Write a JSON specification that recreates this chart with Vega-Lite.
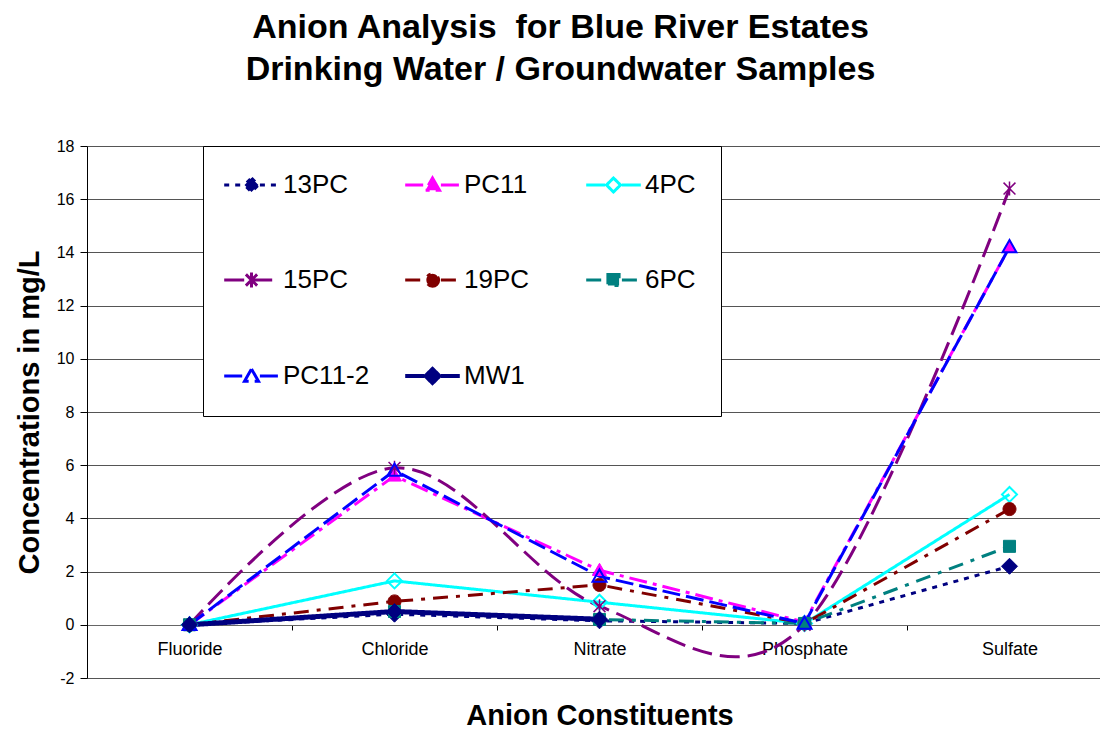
{
  "$schema": "https://vega.github.io/schema/vega-lite/v6.json",
  "width": 1013,
  "height": 532,
  "autosize": {"type": "none"},
  "padding": {"left": 87, "top": 146, "right": 0, "bottom": 53},
  "background": "white",
  "config": {"view": {"stroke": null}, "font": "Liberation Sans"},
  "title": {
    "text": ["Anion Analysis\u00a0 for Blue River Estates", "Drinking Water / Groundwater Samples"],
    "fontSize": 34, "fontWeight": "bold", "font": "Liberation Sans", "color": "#000000",
    "lineHeight": 42, "anchor": "middle", "dx": -33, "offset": 51
  },
  "data": {"values": [
    {"series": "13PC", "anion": "Fluoride", "value": 0},
    {"series": "13PC", "anion": "Chloride", "value": 0.4},
    {"series": "13PC", "anion": "Nitrate", "value": 0.15},
    {"series": "13PC", "anion": "Phosphate", "value": 0.05},
    {"series": "13PC", "anion": "Sulfate", "value": 2.2},
    {"series": "PC11", "anion": "Fluoride", "value": 0},
    {"series": "PC11", "anion": "Chloride", "value": 5.6},
    {"series": "PC11", "anion": "Nitrate", "value": 2.05},
    {"series": "PC11", "anion": "Phosphate", "value": 0.1},
    {"series": "PC11", "anion": "Sulfate", "value": 14.2},
    {"series": "4PC", "anion": "Fluoride", "value": 0},
    {"series": "4PC", "anion": "Chloride", "value": 1.65},
    {"series": "4PC", "anion": "Nitrate", "value": 0.85},
    {"series": "4PC", "anion": "Phosphate", "value": 0.05},
    {"series": "4PC", "anion": "Sulfate", "value": 4.9},
    {"series": "15PC", "anion": "Fluoride", "value": 0},
    {"series": "15PC", "anion": "Chloride", "value": 5.9},
    {"series": "15PC", "anion": "Nitrate", "value": 0.7},
    {"series": "15PC", "anion": "Phosphate", "value": 0},
    {"series": "15PC", "anion": "Sulfate", "value": 16.4},
    {"series": "19PC", "anion": "Fluoride", "value": 0},
    {"series": "19PC", "anion": "Chloride", "value": 0.88},
    {"series": "19PC", "anion": "Nitrate", "value": 1.5},
    {"series": "19PC", "anion": "Phosphate", "value": 0.05},
    {"series": "19PC", "anion": "Sulfate", "value": 4.35},
    {"series": "6PC", "anion": "Fluoride", "value": 0},
    {"series": "6PC", "anion": "Chloride", "value": 0.5},
    {"series": "6PC", "anion": "Nitrate", "value": 0.2},
    {"series": "6PC", "anion": "Phosphate", "value": 0.05},
    {"series": "6PC", "anion": "Sulfate", "value": 2.95},
    {"series": "PC11-2", "anion": "Fluoride", "value": 0},
    {"series": "PC11-2", "anion": "Chloride", "value": 5.8},
    {"series": "PC11-2", "anion": "Nitrate", "value": 1.82},
    {"series": "PC11-2", "anion": "Phosphate", "value": 0.05},
    {"series": "PC11-2", "anion": "Sulfate", "value": 14.2},
    {"series": "MW1", "anion": "Fluoride", "value": 0},
    {"series": "MW1", "anion": "Chloride", "value": 0.5},
    {"series": "MW1", "anion": "Nitrate", "value": 0.21}
  ]},
  "encoding": {
    "x": {
      "field": "anion", "type": "nominal",
      "sort": ["Fluoride", "Chloride", "Nitrate", "Phosphate", "Sulfate"],
      "bandPosition": 0.5,
      "scale": {"type": "band", "paddingInner": 0, "paddingOuter": 0, "range": [0, 1025]},
      "axis": {
        "title": "Anion Constituents", "offset": -53,
        "domainColor": "#666666", "domainWidth": 1,
        "tickColor": "#000000", "tickSize": 5, "tickBand": "extent",
        "labelFontSize": 18, "labelColor": "#000000", "labelPadding": 10, "labelAngle": 0,
        "labelFont": "Liberation Sans",
        "titleFont": "Liberation Sans", "titleFontSize": 29, "titleFontWeight": "bold", "titleColor": "#000000",
        "titlePadding": 43, "grid": false
      }
    },
    "y": {
      "field": "value", "type": "quantitative",
      "scale": {"domain": [-2, 18], "nice": false, "zero": false},
      "axis": {
        "values": [-2, 0, 2, 4, 6, 8, 10, 12, 14, 16, 18],
        "labelExpr": "'' + datum.value",
        "title": "Concentrations in mg/L",
        "grid": true, "gridColor": "#555555", "gridWidth": 1,
        "domainColor": "#000000", "tickColor": "#000000", "tickSize": 7,
        "labelFont": "Liberation Sans", "labelFontSize": 16, "labelColor": "#000000", "labelPadding": 6,
        "titleFont": "Liberation Sans", "titleFontSize": 29, "titleFontWeight": "bold", "titleColor": "#000000",
        "titlePadding": 12
      }
    }
  },
  "layer": [
    {
      "transform": [{"filter": {"field": "series", "oneOf": ["13PC", "PC11", "4PC"]}}],
      "mark": {"type": "line", "strokeWidth": 3},
      "encoding": {
        "stroke": {
          "field": "series", "type": "nominal",
          "scale": {"domain": ["13PC", "PC11", "4PC", "15PC", "19PC", "6PC", "PC11-2", "MW1"],
                    "range": ["#000080", "#FF00FF", "#00FFFF", "#800080", "#800000", "#008080", "#0000FF", "#000080"]},
          "legend": {
            "title": null, "orient": "none", "legendX": 116, "legendY": 0,
            "direction": "horizontal",
            "columns": 3, "gridAlign": "all", "columnPadding": 27, "rowPadding": 66,
            "padding": 25, "fillColor": "#FFFFFF", "strokeColor": "#000000",
            "labelFont": "Liberation Sans", "labelFontSize": 26, "labelColor": "#000000", "labelOffset": 29,
            "symbolSize": 3136,
            "encode": {
              "symbols": {
                "update": {
                  "shape": {"signal": "{'13PC': 'M-0.6,0H0.075M0.675,0H1.35M0.375,-0.25L0.625,0L0.375,0.25L0.125,0Z', 'PC11': 'M-0.6,0H0.075M0.675,0H1.35M0.375,-0.25L0.625,0.19L0.125,0.19Z', '4PC': 'M-0.6,0H0.075M0.675,0H1.35M0.375,-0.25L0.625,0L0.375,0.25L0.125,0Z', '15PC': 'M-0.6,0H1.35M0.175,-0.2L0.575,0.2M0.175,0.2L0.575,-0.2M0.375,-0.27V0.27', '19PC': 'M-0.6,0H0.075M0.675,0H1.35M0.595,0A0.22,0.22,0,1,1,0.155,0A0.22,0.22,0,1,1,0.595,0Z', '6PC': 'M-0.6,0H0.075M0.675,0H1.35M0.175,-0.2H0.575V0.2H0.175Z', 'PC11-2': 'M-0.6,0H0.075M0.675,0H1.35M0.375,-0.25L0.625,0.19L0.125,0.19Z', 'MW1': 'M-0.6,0H0.075M0.675,0H1.35M0.375,-0.25L0.625,0L0.375,0.25L0.125,0Z'}[datum.value]"},
                  "fill": {"signal": "{'13PC': '#000080', 'PC11': '#FF00FF', '4PC': 'transparent', '15PC': 'transparent', '19PC': '#800000', '6PC': '#008080', 'PC11-2': 'transparent', 'MW1': '#000080'}[datum.value]"},
                  "stroke": {"signal": "{'13PC': '#000080', 'PC11': '#FF00FF', '4PC': '#00FFFF', '15PC': '#800080', '19PC': '#800000', '6PC': '#008080', 'PC11-2': '#0000FF', 'MW1': '#000080'}[datum.value]"},
                  "strokeDash": {"signal": "{'13PC': [5,6], 'PC11': [18,6,4,6], '4PC': [1,0], '15PC': [1,0], '19PC': [15,8,4,8], '6PC': [15,8,4,8], 'PC11-2': [1,0], 'MW1': [1,0]}[datum.value]"},
                  "strokeWidth": {"signal": "datum.value === 'MW1' ? 4 : 3"},
                  "size": {"value": 3136},
                  "opacity": {"value": 1}
                }
              }
            }
          }
        },
        "strokeDash": {
          "field": "series", "type": "nominal", "legend": null,
          "scale": {"domain": ["13PC", "PC11", "4PC", "15PC", "19PC", "6PC", "PC11-2", "MW1"],
                    "range": [[5, 6], [18, 6, 4, 6], [1, 0], [20, 8], [15, 8, 4, 8], [15, 8, 4, 8], [18, 6], [1, 0]]}
        }
      }
    },
    {
      "transform": [{"filter": {"field": "series", "oneOf": ["15PC"]}}],
      "mark": {"type": "line", "interpolate": "cardinal", "tension": 0, "strokeWidth": 3},
      "encoding": {
        "stroke": {"field": "series", "type": "nominal", "legend": null},
        "strokeDash": {"field": "series", "type": "nominal", "legend": null}
      }
    },
    {
      "transform": [{"filter": {"field": "series", "oneOf": ["19PC", "6PC", "PC11-2"]}}],
      "mark": {"type": "line", "strokeWidth": 3},
      "encoding": {
        "stroke": {"field": "series", "type": "nominal", "legend": null},
        "strokeDash": {"field": "series", "type": "nominal", "legend": null}
      }
    },
    {
      "transform": [{"filter": {"field": "series", "oneOf": ["MW1"]}}],
      "mark": {"type": "line", "strokeWidth": 5},
      "encoding": {
        "stroke": {"field": "series", "type": "nominal", "legend": null},
        "strokeDash": {"field": "series", "type": "nominal", "legend": null}
      }
    },
    {
      "transform": [{"filter": {"field": "series", "oneOf": ["13PC"]}}],
      "mark": {"type": "point", "shape": "M0,-1L1,0L0,1L-1,0Z", "size": 256, "filled": true, "fill": "#000080", "stroke": "#000080", "strokeWidth": 1, "opacity": 1}
    },
    {
      "transform": [{"filter": {"field": "series", "oneOf": ["PC11"]}}],
      "mark": {"type": "point", "shape": "M0,-1L1,0.75L-1,0.75Z", "size": 196, "filled": true, "fill": "#FF00FF", "stroke": "#FF00FF", "strokeWidth": 1, "opacity": 1}
    },
    {
      "transform": [{"filter": {"field": "series", "oneOf": ["4PC"]}}],
      "mark": {"type": "point", "shape": "M0,-1L1,0L0,1L-1,0Z", "size": 225, "filled": false, "fill": "transparent", "stroke": "#00FFFF", "strokeWidth": 2, "opacity": 1}
    },
    {
      "transform": [{"filter": {"field": "series", "oneOf": ["15PC"]}}],
      "mark": {"type": "point", "shape": "M-0.85,-0.85L0.85,0.85M-0.85,0.85L0.85,-0.85M0,-1V1", "size": 196, "filled": false, "fill": "transparent", "stroke": "#800080", "strokeWidth": 1.5, "opacity": 1}
    },
    {
      "transform": [{"filter": {"field": "series", "oneOf": ["19PC"]}}],
      "mark": {"type": "point", "shape": "M0.93,0A0.93,0.93,0,1,1,-0.93,0A0.93,0.93,0,1,1,0.93,0Z", "size": 196, "filled": true, "fill": "#800000", "stroke": "#800000", "strokeWidth": 1, "opacity": 1}
    },
    {
      "transform": [{"filter": {"field": "series", "oneOf": ["6PC"]}}],
      "mark": {"type": "point", "shape": "M-0.86,-0.86H0.86V0.86H-0.86Z", "size": 196, "filled": true, "fill": "#008080", "stroke": "#008080", "strokeWidth": 1, "opacity": 1}
    },
    {
      "transform": [{"filter": {"field": "series", "oneOf": ["PC11-2"]}}],
      "mark": {"type": "point", "shape": "M0,-1L1,0.75L-1,0.75Z", "size": 196, "filled": false, "fill": "transparent", "stroke": "#0000FF", "strokeWidth": 2, "opacity": 1}
    },
    {
      "transform": [{"filter": {"field": "series", "oneOf": ["MW1"]}}],
      "mark": {"type": "point", "shape": "M0,-1L1,0L0,1L-1,0Z", "size": 256, "filled": true, "fill": "#000080", "stroke": "#000080", "strokeWidth": 1, "opacity": 1}
    }
  ]
}
